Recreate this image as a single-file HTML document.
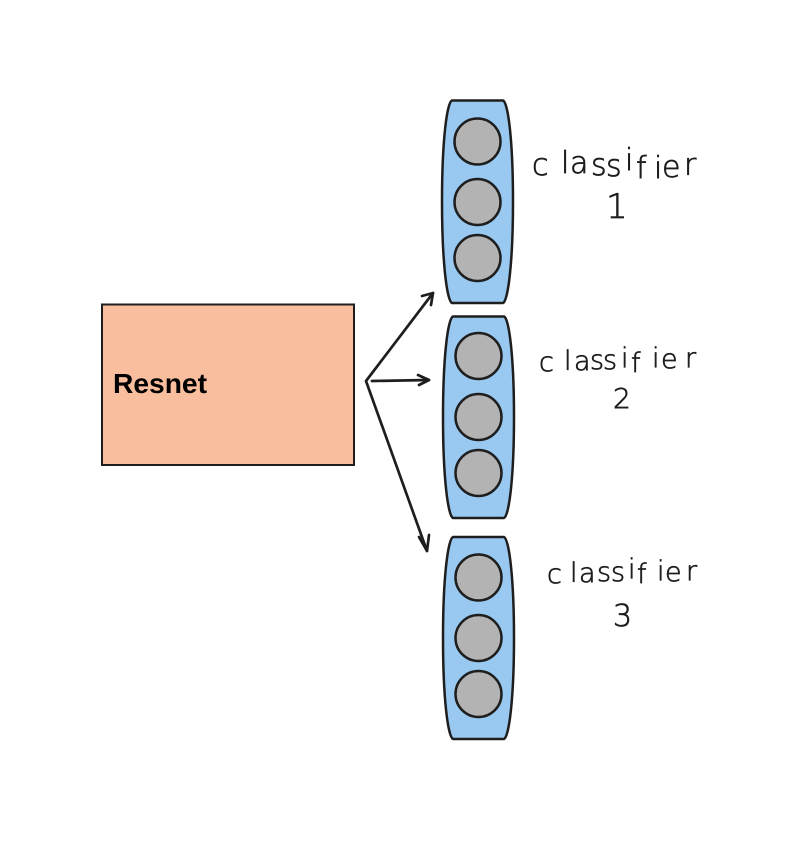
<!DOCTYPE html>
<html><head><meta charset="utf-8"><style>
html,body{margin:0;padding:0;background:#fff}
svg{display:block}
.p{fill:#99c9f0;stroke:#1e1e1e;stroke-width:2.5}
.c{fill:#b3b3b3;stroke:#1e1e1e;stroke-width:2.5}
.a{fill:none;stroke:#1e1e1e;stroke-width:2.7;stroke-linecap:round;stroke-linejoin:round}
.h{font-family:"DejaVu Sans","Liberation Sans",sans-serif;font-weight:200;fill:#1e1e1e;stroke:#1e1e1e;stroke-width:.7;font-size:27px}
</style></head><body>
<svg width="799" height="841" viewBox="0 0 799 841" xmlns="http://www.w3.org/2000/svg">
<rect x="102" y="304.500" width="252" height="160.500" fill="#f9be9d" stroke="#1e1e1e" stroke-width="2"/>
<text x="113" y="393" font-family="Liberation Sans, sans-serif" font-weight="700" font-size="28" fill="#000" textLength="94" lengthAdjust="spacingAndGlyphs">Resnet</text>
<path class="p" d="M452 100.500L503 100.500C508 102 513 140 513 201.500C513 263 508 301 503 303L452 303C447 301 442 263 442 201.500C442 140 447 102 452 100.500Z"/>
<circle class="c" cx="477.500" cy="141.500" r="23"/><circle class="c" cx="477.500" cy="202" r="23"/><circle class="c" cx="477.500" cy="258" r="23"/>
<path class="p" d="M453 316.500L504 316.500C509 318 514 356 514 417C514 478 509 516 504 518L453 518C448 516 443 478 443 417C443 356 448 318 453 316.500Z"/>
<circle class="c" cx="478.500" cy="356" r="23"/><circle class="c" cx="478.500" cy="417" r="23"/><circle class="c" cx="478.500" cy="473" r="23"/>
<path class="p" d="M453 537L504 537C509 539 514 577 514 638C514 699 509 737 504 739L453 739C448 737 443 699 443 638C443 577 448 539 453 537Z"/>
<circle class="c" cx="478.500" cy="577.500" r="23"/><circle class="c" cx="478.500" cy="638" r="23"/><circle class="c" cx="478.500" cy="694" r="23"/>
<path class="a" d="M433 293L366 381L427 551"/>
<path class="a" d="M422 296L433 293L431 305"/>
<path class="a" d="M419 537L427 551L429 535"/>
<path class="a" d="M372 381L429 380"/>
<path class="a" d="M418 375L429 380L419 385"/>
<text class="h" style="font-size:30px" x="532 561 570 591 606 625 636 654 662 684" y="175 173 173 175 176 170 178 178 177 175">classifier</text>
<text class="h" x="606" y="218" style="font-size:34px">1</text>
<text class="h" x="539 564 574 590 603 621 631 652 661 685" y="371 370 370 369 369 367 372 367 368 367">classifier</text>
<text class="h" x="613" y="408" style="font-size:28px">2</text>
<text class="h" x="547 570 579 597 611 628 637 657 665 686" y="583 582 582 581 581 578 583 580 581 580">classifier</text>
<text class="h" x="613" y="626" style="font-size:30px">3</text>
</svg>
</body></html>
